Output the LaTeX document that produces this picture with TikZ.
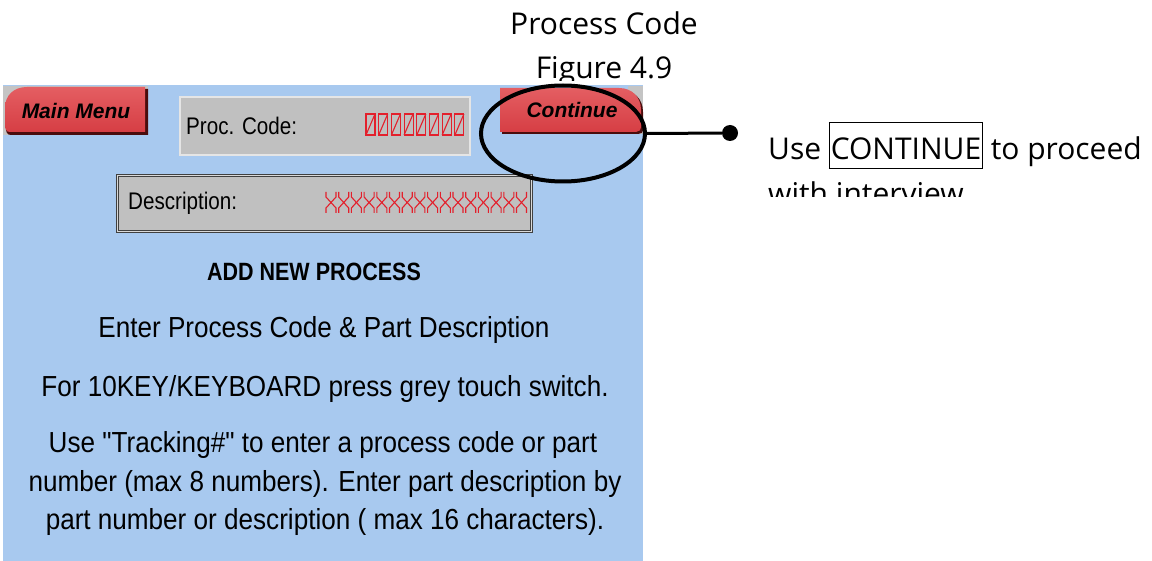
\documentclass[tikz,border=0pt]{standalone}
\usepackage{fontspec}
\usetikzlibrary{shapes.geometric,positioning}
\newfontfamily\panelfont[FakeStretch=0.90]{Liberation Sans}
\newfontfamily\headfont[FakeStretch=0.86]{Liberation Sans}
\newfontfamily\btnfont{Liberation Sans}
\newfontfamily\notefont{Open Sans}
\definecolor{panelblue}{HTML}{A8C9EF}
\definecolor{btngray}{HTML}{C4C4C4}
\definecolor{btnred}{HTML}{D63E44}
\definecolor{btnlight}{HTML}{E45E62}
\definecolor{btnshade}{HTML}{4A0C0C}
\definecolor{fieldgray}{HTML}{C0C0C0}
\definecolor{segred}{HTML}{E3202C}
\tikzstyle{fieldbox} = [rectangle, fill=fieldgray, inner sep=0pt]
\tikzstyle{fieldlabel} = [anchor=base west, inner sep=0pt, font=\headfont\fontsize{24}{28}\selectfont]
\tikzstyle{btntext} = [inner sep=0pt, font=\btnfont\bfseries\itshape\fontsize{21}{25}\selectfont]
\tikzstyle{headtext} = [anchor=base, inner sep=0pt, font=\headfont\bfseries\fontsize{25}{30}\selectfont]
\tikzstyle{paneltext} = [anchor=base, inner sep=0pt, font=\panelfont\fontsize{29}{35}\selectfont]
\tikzstyle{notetext} = [inner sep=0pt, font=\notefont\fontsize{30}{43}\selectfont]
\tikzstyle{segment} = [segred, line width=1.1pt]
\setlength{\fboxsep}{1pt}
\setlength{\fboxrule}{0.8pt}

\begin{document}
\begin{tikzpicture}[x=1pt, y=-1pt]
  \useasboundingbox (0,0) rectangle (1152,561);
  % screen
  \fill[panelblue] (3,85) rectangle (643,561);
  \fill[btngray] (3,86) rectangle (148,135);
  \fill[btngray] (628,86) rectangle (643,134);
  % main menu button
  \fill[btnshade] (28,89) -- (148,89) -- (148,135) -- (11,135) .. controls (7,135) and (6,132) .. (6,128) -- (6,110) .. controls (6,97) and (15,89) .. (28,89) -- cycle;
  \shade[top color=btnlight, bottom color=btnred] (27,87) -- (145,87) -- (145,132) -- (10,132) .. controls (6,132) and (5,129) .. (5,125) -- (5,108) .. controls (5,95) and (14,87) .. (27,87) -- cycle;
  \node[btntext] (mainmenu) at (76,111) {Main Menu};
  % continue button
  \fill[btnshade] (502,90) -- (621,90) .. controls (634,90) and (643,99) .. (643,112) -- (643,129) .. controls (643,133) and (641,134) .. (638,134) -- (502,134) -- cycle;
  \shade[top color=btnlight, bottom color=btnred] (500,88) -- (619,88) .. controls (632,88) and (641,97) .. (641,110) -- (641,126) .. controls (641,130) and (639,132) .. (636,132) -- (500,132) -- cycle;
  \node[btntext] (continue) at (572,110) {Continue};
  % entry fields
  \node[fieldbox, draw=white!90!black, line width=1.5pt, minimum width=290pt, minimum height=58pt] (proccode) at (325,126) {};
  \node[fieldlabel] (proclabel) at (186,135) {Proc. Code:};
  \foreach \i in {0,...,7} {
    \draw[segment] (366+12.7*\i,114) rectangle (375+12.7*\i,135);
    \draw[segment] (366+12.7*\i,135) -- (375+12.7*\i,114);
  }
  \node[fieldbox, draw=black!75, double=white!85!black, double distance=1pt, line width=1pt, minimum width=414pt, minimum height=56pt] (descr) at (324.5,203.5) {};
  \node[fieldlabel] (descrlabel) at (128,210) {Description:};
  \foreach \i in {0,...,15} {
    \draw[segment] (326+12.7*\i,192) -- (326+12.7*\i,197) -- (331+12.7*\i,202.5) -- (326+12.7*\i,208) -- (326+12.7*\i,213);
    \draw[segment] (336+12.7*\i,192) -- (336+12.7*\i,197) -- (331+12.7*\i,202.5) -- (336+12.7*\i,208) -- (336+12.7*\i,213);
  }
  % screen texts
  \node[headtext] (addnew) at (314,281) {ADD NEW PROCESS};
  \node[paneltext] (enter) at (324,338) {Enter Process Code \& Part Description};
  \node[paneltext] (forkey) at (325,396) {For 10KEY/KEYBOARD press grey touch switch.};
  \node[paneltext] (usetrack) at (323,452) {Use "Tracking\#" to enter a process code or part};
  \node[paneltext] (maxnum) at (325,491) {number (max 8 numbers). Enter part description by};
  \node[paneltext] (maxchar) at (325,529) {part number or description ( max 16 characters).};
  % title
  \begin{scope}
    \clip (0,0) rectangle (1152,81);
    \node[notetext, anchor=base] (title) at (604,35) {Process Code};
    \node[notetext, anchor=base] (fignum) at (604,79) {Figure 4.9};
  \end{scope}
  % callout
  \node[draw, ellipse, line width=4pt, minimum width=164pt, minimum height=96pt, inner sep=0pt] (ring) at (563,133.5) {};
  \node[circle, fill, inner sep=0pt, minimum size=16pt] (pin) at (730,133) {};
  \draw[line width=3pt] (ring.east) -- (pin);
  \begin{scope}
    \clip (740,100) rectangle (1152,197);
    \node[notetext, anchor=base west] (note) at (768,160) {Use \fbox{\rule[-7pt]{0pt}{43pt}CONTINUE} to proceed};
    \node[notetext, anchor=base west] (notecont) at (768,205) {with interview};
  \end{scope}
\end{tikzpicture}
\end{document}
